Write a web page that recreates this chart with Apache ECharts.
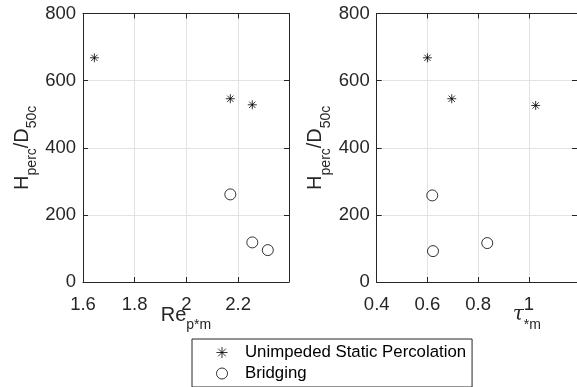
<!DOCTYPE html>
<html>
<head>
<meta charset="utf-8">
<script src="https://cdn.jsdelivr.net/npm/echarts@6/dist/echarts.min.js"></script>
<style>
  html, body { margin: 0; padding: 0; background: #fff; }
  #grafico { width: 577px; height: 387px; }
</style>
</head>
<body>
<div id="grafico"></div>
<script>
// dados
const reStar = [1.644, 2.17, 2.255];
const hStarRe = [668, 546, 528];
const reBridge = [2.17, 2.255, 2.315];
const hBridgeRe = [261, 118, 95];

const tauStar = [0.6, 0.696, 1.027];
const hStarTau = [668, 546, 526];
const tauBridge = [0.619, 0.836, 0.622];
const hBridgeTau = [258, 116, 92];

const nomes = ['Unimpeded Static Percolation', 'Bridging'];

const fonte = 'Liberation Sans, Arial, sans-serif';
const cinza = '#262626';
const starPath = 'path://M0,5L10,5M5,0L5,10M1.5,1.5L8.5,8.5M8.5,1.5L1.5,8.5';

const grafico = echarts.init(document.getElementById('grafico'));

function pares(xs, ys) {
    return xs.map((x, i) => [x, ys[i]]);
}

// subscritos: texto principal alinhado no topo, subscrito no fundo da linha
function richSub(fontePrincipal, italico) {
    return {
        m: { fontSize: 20, lineHeight: 20, verticalAlign: 'top', color: cinza,
             fontFamily: fontePrincipal, fontStyle: italico ? 'italic' : 'normal' },
        s: { fontSize: 14, lineHeight: 27, verticalAlign: 'bottom', color: cinza, fontFamily: fonte }
    };
}

function eixoX(grid, min, max, nome, rich, extraPad) {
    return [{
        type: 'value', gridIndex: grid, min: min, max: max, interval: 0.2,
        position: 'bottom',
        axisLine: { show: true, onZero: false, lineStyle: { color: cinza, width: 1 } },
        axisTick: { show: true, inside: true, length: 5, lineStyle: { color: cinza } },
        axisLabel: { fontSize: 18.5, color: cinza, fontFamily: fonte, margin: 13, showMaxLabel: false,
            formatter: v => String(+v.toFixed(2)) },
        splitLine: { show: true, lineStyle: { color: '#e3e3e3', width: 1 } },
        name: nome, nameLocation: 'middle', nameGap: 23, nameMoveOverlap: false,
        nameTextStyle: { rich: rich, padding: [0, 0, 0, extraPad] }
    }, {
        type: 'value', gridIndex: grid, min: min, max: max, interval: 0.2,
        position: 'top',
        axisLine: { show: true, onZero: false, lineStyle: { color: cinza, width: 1 } },
        axisTick: { show: true, inside: true, length: 5, lineStyle: { color: cinza } },
        axisLabel: { show: false },
        splitLine: { show: false }
    }];
}

function eixoY(grid) {
    return [{
        type: 'value', gridIndex: grid, min: 0, max: 800, interval: 200,
        position: 'left',
        axisLine: { show: true, onZero: false, lineStyle: { color: cinza, width: 1 } },
        axisTick: { show: true, inside: true, length: 5, lineStyle: { color: cinza } },
        axisLabel: { fontSize: 18.5, color: cinza, fontFamily: fonte, margin: 7 },
        splitLine: { show: true, lineStyle: { color: '#e3e3e3', width: 1 } },
        name: '{m|H}{s|perc}{m|/D}{s|50c}', nameLocation: 'middle', nameGap: 44, nameRotate: 90,
        nameMoveOverlap: false,
        nameTextStyle: { rich: richSub(fonte, false) }
    }, {
        type: 'value', gridIndex: grid, min: 0, max: 800, interval: 200,
        position: 'right',
        axisLine: { show: true, onZero: false, lineStyle: { color: cinza, width: 1 } },
        axisTick: { show: true, inside: true, length: 5, lineStyle: { color: cinza } },
        axisLabel: { show: false },
        splitLine: { show: false }
    }];
}

const estiloStar = { color: 'transparent', borderColor: '#000', borderWidth: 1 };
const estiloCirc = { color: 'transparent', borderColor: '#000', borderWidth: 1 };

const option = {
    animation: false,
    backgroundColor: '#fff',
    grid: [
        { left: 83, top: 13.5, width: 206, bottom: 105 },
        { left: 376.7, top: 13.5, right: -2.5, bottom: 105 }
    ],
    xAxis: [
        ...eixoX(0, 1.6, 2.397, '{m|Re}{s|p*m}', richSub(fonte, false), 0),
        ...eixoX(1, 0.4, 1.19, '{m|τ}{s|*m}', richSub('DejaVu Serif, serif', true), 100)
    ],
    yAxis: [...eixoY(0), ...eixoY(1)],
    legend: {
        orient: 'vertical',
        left: 192, top: 339,
        padding: [5, 6, 5, 24],
        itemGap: 4,
        itemWidth: 36, itemHeight: 11,
        borderColor: cinza, borderWidth: 1,
        backgroundColor: '#fff',
        textStyle: { fontSize: 16.8, color: '#000', fontFamily: fonte },
        data: [
            { name: nomes[0], icon: starPath, itemStyle: estiloStar },
            { name: nomes[1], icon: 'circle', itemStyle: estiloCirc }
        ]
    },
    series: [
        { name: nomes[0], type: 'scatter', xAxisIndex: 0, yAxisIndex: 0, symbol: starPath, symbolSize: 9,
          itemStyle: estiloStar, data: pares(reStar, hStarRe) },
        { name: nomes[1], type: 'scatter', xAxisIndex: 0, yAxisIndex: 0, symbol: 'circle', symbolSize: 11,
          itemStyle: estiloCirc, data: pares(reBridge, hBridgeRe) },
        { name: nomes[0], type: 'scatter', xAxisIndex: 2, yAxisIndex: 2, symbol: starPath, symbolSize: 9,
          itemStyle: estiloStar, data: pares(tauStar, hStarTau) },
        { name: nomes[1], type: 'scatter', xAxisIndex: 2, yAxisIndex: 2, symbol: 'circle', symbolSize: 11,
          itemStyle: estiloCirc, data: pares(tauBridge, hBridgeTau) }
    ]
};

grafico.setOption(option);
</script>
</body>
</html>
